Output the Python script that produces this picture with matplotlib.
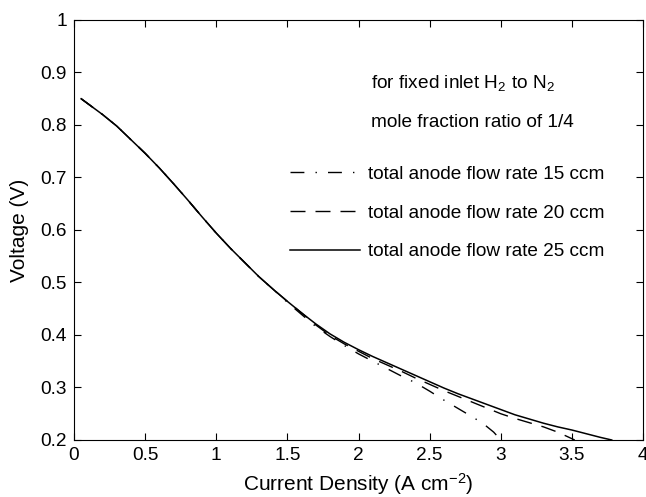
import matplotlib
matplotlib.use('Agg')
import matplotlib.pyplot as plt

plt.rcParams['font.family'] = ['Liberation Sans', 'DejaVu Sans']
plt.rcParams['mathtext.fontset'] = 'custom'
plt.rcParams['mathtext.rm'] = 'Liberation Sans'
plt.rcParams['mathtext.it'] = 'Liberation Sans:italic'

# polarisation curves
x_25 = [0.05, 0.1, 0.2, 0.3, 0.4, 0.5, 0.6, 0.7, 0.8, 0.9, 1.0, 1.1, 1.2, 1.3, 1.4, 1.5, 1.6, 1.7, 1.8, 1.9,
        2.0, 2.1, 2.2, 2.3, 2.4, 2.5, 2.6, 2.7, 2.8, 2.9, 3.0, 3.1, 3.2, 3.3, 3.4, 3.5, 3.6, 3.7, 3.78]
v_25 = [0.850, 0.840, 0.820, 0.798, 0.772, 0.746, 0.718, 0.688, 0.657, 0.625, 0.594, 0.565, 0.538, 0.511,
        0.487, 0.464, 0.442, 0.421, 0.402, 0.386, 0.372, 0.359, 0.347, 0.335, 0.323, 0.311, 0.299, 0.288,
        0.278, 0.268, 0.258, 0.248, 0.240, 0.232, 0.225, 0.219, 0.212, 0.205, 0.200]

x_20 = [0.05, 0.1, 0.2, 0.3, 0.4, 0.5, 0.6, 0.7, 0.8, 0.9, 1.0, 1.1, 1.2, 1.3, 1.4, 1.5, 1.6, 1.7, 1.8, 1.9,
        2.0, 2.1, 2.2, 2.3, 2.4, 2.5, 2.6, 2.7, 2.8, 2.9, 3.0, 3.1, 3.2, 3.3, 3.4, 3.52]
v_20 = [0.850, 0.840, 0.820, 0.798, 0.772, 0.746, 0.718, 0.688, 0.657, 0.625, 0.594, 0.565, 0.538, 0.511,
        0.487, 0.464, 0.442, 0.419, 0.399, 0.383, 0.369, 0.355, 0.343, 0.331, 0.318, 0.306, 0.294, 0.283,
        0.272, 0.261, 0.250, 0.241, 0.233, 0.225, 0.215, 0.200]

x_15 = [0.05, 0.1, 0.2, 0.3, 0.4, 0.5, 0.6, 0.7, 0.8, 0.9, 1.0, 1.1, 1.2, 1.3, 1.4, 1.5, 1.6, 1.7, 1.8, 1.9,
        2.0, 2.1, 2.2, 2.3, 2.4, 2.5, 2.6, 2.7, 2.8, 2.86, 2.9, 2.95, 3.0]
v_15 = [0.850, 0.840, 0.820, 0.798, 0.772, 0.746, 0.718, 0.688, 0.657, 0.625, 0.594, 0.565, 0.538, 0.511,
        0.487, 0.462, 0.439, 0.416, 0.397, 0.380, 0.364, 0.350, 0.336, 0.322, 0.309, 0.293, 0.276, 0.260,
        0.244, 0.234, 0.226, 0.215, 0.200]

fig = plt.figure(figsize=(6.46, 4.97), dpi=100)
ax = fig.add_axes([0.1146, 0.1147, 0.8808, 0.8451])

ax.plot(x_15, v_15, color='black', lw=1.0, linestyle=(0, (10, 8, 1.0, 8)), label='total anode flow rate 15 ccm')
ax.plot(x_20, v_20, color='black', lw=1.0, linestyle=(0, (10.8, 7.2)), label='total anode flow rate 20 ccm')
ax.plot(x_25, v_25, color='black', lw=1.1, linestyle='-', label='total anode flow rate 25 ccm')

ax.set_xlim(0, 4)
ax.set_ylim(0.2, 1)
ax.set_xticks([0, 0.5, 1, 1.5, 2, 2.5, 3, 3.5, 4])
ax.set_xticklabels(['0', '0.5', '1', '1.5', '2', '2.5', '3', '3.5', '4'])
ax.set_yticks([0.2, 0.3, 0.4, 0.5, 0.6, 0.7, 0.8, 0.9, 1])
ax.set_yticklabels(['0.2', '0.3', '0.4', '0.5', '0.6', '0.7', '0.8', '0.9', '1'])
ax.tick_params(direction='in', top=True, right=True, length=5, labelsize=13.7, pad=5)
for s in ax.spines.values():
    s.set_linewidth(0.8)

ax.set_xlabel('Current Density (A cm$^{-2}$)', fontsize=15, labelpad=5)
ax.set_ylabel('Voltage (V)', fontsize=15, labelpad=8)

ax.text(0.522, 0.850, 'for fixed inlet H$_2$ to N$_2$', transform=ax.transAxes, fontsize=13.7, va='center')
ax.text(0.522, 0.755, 'mole fraction ratio of 1/4', transform=ax.transAxes, fontsize=13.7, va='center')

ax.legend(loc='upper left', bbox_to_anchor=(0.3796, 0.653), frameon=False, fontsize=13.7,
          handlelength=3.68, handletextpad=0.42, labelspacing=1.12, borderpad=0, borderaxespad=0)

plt.savefig('out.png', dpi=100)
